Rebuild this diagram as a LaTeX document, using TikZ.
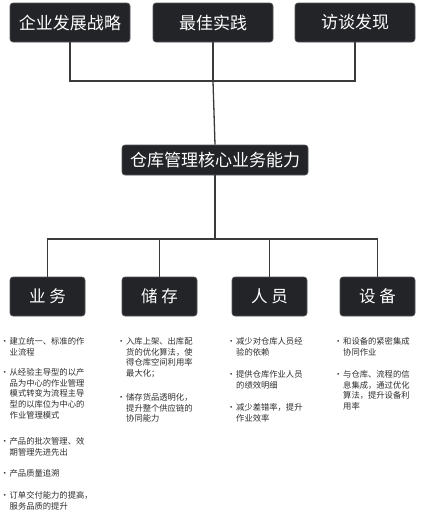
\documentclass[tikz,border=0pt]{standalone}
\usepackage{fontspec}
\newfontfamily\cjk{Noto Sans CJK SC}
\definecolor{boxfill}{HTML}{232428}
\definecolor{boxline}{HTML}{55565A}
\definecolor{conn}{HTML}{3A3A3A}
\definecolor{listtext}{HTML}{2E2E2E}
\newcommand\mylistitem[1]{\parbox[t]{100pt}{\parindent=0pt\fontsize{8.3}{10.8}\selectfont\hangindent=6pt\hangafter=1\leavevmode\makebox[6pt][l]{\hspace{-3pt}·}#1}}
\begin{document}
\begin{tikzpicture}[x=1pt,y=-1pt,
  darkbox/.style={draw=boxline,line width=0.6pt,fill=boxfill,rounded corners=3pt,
    text=white,inner sep=0pt,font=\cjk\fontsize{17}{20}\selectfont},
  topbox/.style={darkbox,minimum width=120pt,minimum height=39pt},
  midbox/.style={darkbox,minimum width=186pt,minimum height=30pt},
  catbox/.style={darkbox,minimum width=75pt,minimum height=39pt,font=\cjk\fontsize{16.5}{20}\selectfont},
  wire/.style={draw=conn,line width=1.3pt},
  item/.style={anchor=base west,inner sep=0pt,text=listtext,
    font=\cjk\fontsize{8.3}{10.8}\selectfont}
]
\useasboundingbox (0,0) rectangle (429,522);
\fill[white] (0,0) rectangle (429,522);

% top boxes
\node[topbox] (t1) at (70,22.5) {企业发展战略};
\node[topbox] (t2) at (213,22.5) {最佳实践};
\node[topbox] (t3) at (355,22.5) {访谈发现};

% centre box
\node[midbox] (c) at (215,160) {仓库管理核心业务能力};

% category boxes
\node[catbox] (b1) at (47.5,296.5) {业\hspace{4pt}务};
\node[catbox] (b2) at (159.5,296.5) {储\hspace{4pt}存};
\node[catbox] (b3) at (269.5,296.5) {人\hspace{4pt}员};
\node[catbox] (b4) at (377.5,296.5) {设\hspace{4pt}备};

% junctions
\coordinate (jt) at (c.north |- 0,81);
\coordinate (jb) at (c.south |- 0,239);

% connectors
\draw[wire] (t1.south) |- (jt) -| (t3.south);
\draw[wire] (t2.south |- jt) -- (c.north);
\draw[wire] (t2.south) -- (t2.south |- jt);
\draw[wire] (c.south) -- (jb);
\draw[wire] (b1.north) |- (jb) -| (b4.north);
\draw[wire] (b2.north) -- (b2.north |- jb);
\draw[wire] (b3.north) -- (b3.north |- jb);

% column 1
\node[item] (l11) at (3.5,344.2) {\mylistitem{建立统一、标准的作\\业流程}};
\node[item] (l12) at (3.5,375.2) {\mylistitem{从经验主导型的以产\\品为中心的作业管理\\模式转变为流程主导\\型的以库位为中心的\\作业管理模式}};
\node[item] (l13) at (3.5,444.2) {\mylistitem{产品的批次管理、效\\期管理先进先出}};
\node[item] (l14) at (3.5,476.2) {\mylistitem{产品质量追溯}};
\node[item] (l15) at (3.5,498.2) {\mylistitem{订单交付能力的提高，\\服务品质的提升}};

% column 2
\node[item] (l21) at (120,344.2) {\mylistitem{入库上架、出库配\\货的优化算法，使\\得仓库空间利用率\\最大化；}};
\node[item] (l22) at (120,400.2) {\mylistitem{储存货品透明化，\\提升整个供应链的\\协同能力}};

% column 3
\node[item] (l31) at (230,344.2) {\mylistitem{减少对仓库人员经\\验的依赖}};
\node[item] (l32) at (230,377.2) {\mylistitem{提供仓库作业人员\\的绩效明细}};
\node[item] (l33) at (230,410.2) {\mylistitem{减少差错率，提升\\作业效率}};

% column 4
\node[item] (l41) at (337,344.2) {\mylistitem{和设备的紧密集成\\协同作业}};
\node[item] (l42) at (337,377.2) {\mylistitem{与仓库、流程的信\\息集成，通过优化\\算法，提升设备利\\用率}};
\end{tikzpicture}
\end{document}
